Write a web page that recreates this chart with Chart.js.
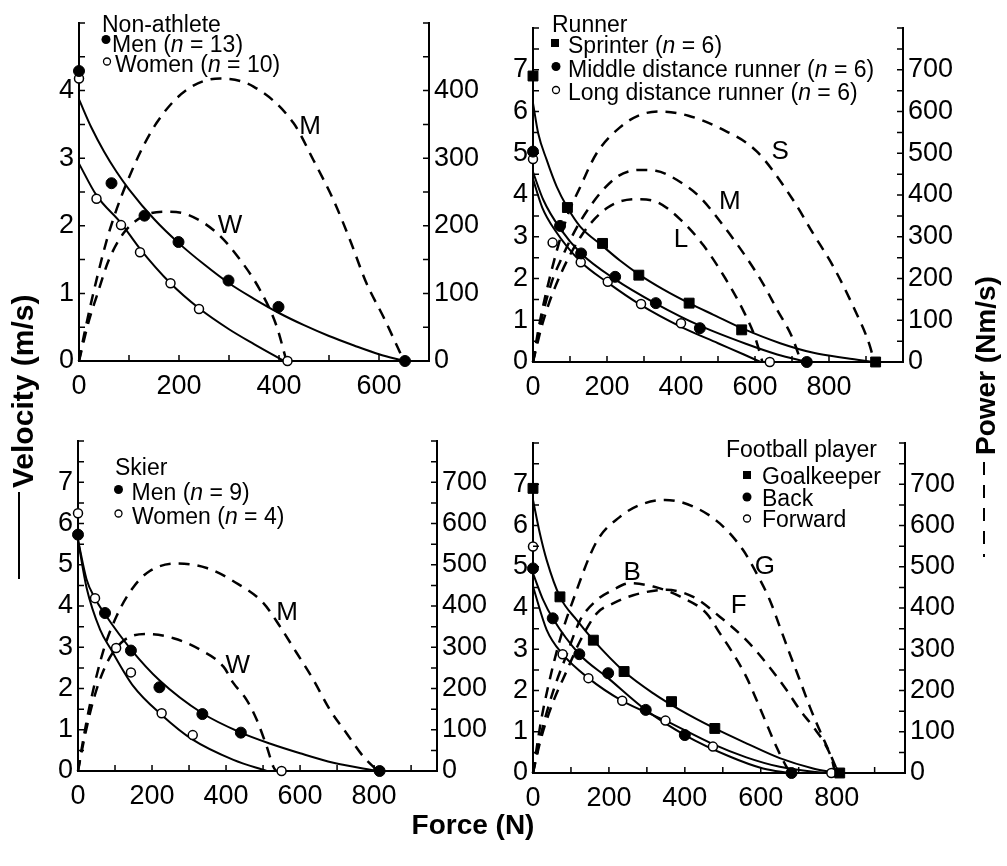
<!DOCTYPE html>
<html>
<head>
<meta charset="utf-8">
<script src="https://cdn.jsdelivr.net/npm/chart.js@4.4.1/dist/chart.umd.min.js"></script>
<style>
  html, body { margin: 0; padding: 0; background: #fff; }
  #wrap { position: relative; width: 1007px; height: 866px; overflow: hidden; background: #fff; }
  #wrap canvas { position: absolute; left: 0; top: 0; }
</style>
</head>
<body>
<div id="wrap">
  <canvas id="nonAthlete" width="1007" height="866"></canvas>
  <canvas id="runner" width="1007" height="866"></canvas>
  <canvas id="skier" width="1007" height="866"></canvas>
  <canvas id="football" width="1007" height="866"></canvas>
</div>
<script>
// ---------- Non-athlete ----------
const naMenF = [0, 65, 131, 199, 299, 399, 652];
const naMenV = [4.29, 2.63, 2.15, 1.76, 1.19, 0.80, 0];
const naWomenF = [0, 35, 84, 122, 183, 240, 417];
const naWomenV = [4.18, 2.40, 2.01, 1.61, 1.15, 0.77, 0];
const naMenFitF = [0, 25, 50, 75, 100, 150, 200, 250, 300, 350, 400, 450, 500, 550, 600, 650];
const naMenFitV = [3.87, 3.45, 3.10, 2.80, 2.54, 2.10, 1.74, 1.43, 1.15, 0.92, 0.71, 0.53, 0.37, 0.23, 0.10, 0];
const naWomenFitF = [0, 35, 84, 122, 183, 240, 300, 350, 410];
const naWomenFitV = [2.92, 2.45, 2.04, 1.66, 1.15, 0.78, 0.47, 0.25, 0];
const naMenPowF = [0, 10, 35, 62, 109, 155, 215, 282, 349, 429, 469, 509, 542, 575, 609, 650];
const naMenPowP = [0, 38, 120, 195, 287, 352, 401, 418, 406, 352, 297, 238, 179, 115, 65, 0];
const naWomenPowF = [0, 20, 35, 60, 90, 131, 175, 215, 275, 322, 362, 395, 415];
const naWomenPowP = [0, 60, 95, 150, 190, 215, 221, 217, 190, 150, 105, 52, 0];

// ---------- Runner ----------
const ruSprF = [0, 93, 188, 286, 422, 564, 926];
const ruSprV = [6.85, 3.70, 2.84, 2.08, 1.41, 0.77, 0];
const ruMidF = [0, 73, 130, 222, 332, 451, 740];
const ruMidV = [5.04, 3.26, 2.60, 2.04, 1.41, 0.81, 0];
const ruLongF = [0, 53, 129, 202, 292, 400, 640];
const ruLongV = [4.86, 2.86, 2.39, 1.92, 1.39, 0.93, 0];
const ruSprFitF = [0, 14, 37, 64, 93, 127, 188, 235, 286, 352, 422, 488, 564, 668, 758, 848, 920];
const ruSprFitV = [6.20, 5.48, 4.84, 4.20, 3.70, 3.25, 2.78, 2.43, 2.10, 1.74, 1.41, 1.13, 0.81, 0.45, 0.22, 0.09, 0];
const ruMidFitF = [0, 28, 73, 130, 222, 332, 451, 577, 660, 740];
const ruMidFitV = [4.55, 3.88, 3.20, 2.60, 1.98, 1.40, 0.87, 0.43, 0.18, 0];
const ruLongFitF = [0, 25, 60, 129, 202, 292, 400, 500, 570, 615];
const ruLongFitV = [4.38, 3.70, 3.15, 2.40, 1.90, 1.36, 0.84, 0.45, 0.18, 0];
const ruSprPowF = [0, 15, 37, 91, 127, 172, 235, 290, 343, 420, 505, 604, 703, 757, 812, 866, 911, 922];
const ruSprPowP = [0, 80, 172, 345, 418, 500, 562, 592, 600, 590, 560, 505, 388, 308, 228, 132, 37, 0];
const ruMidPowF = [0, 20, 50, 73, 130, 222, 289, 332, 400, 451, 520, 577, 620, 660, 700, 725];
const ruMidPowP = [0, 90, 190, 240, 340, 440, 460, 458, 430, 395, 320, 250, 190, 125, 60, 0];
const ruLongPowF = [0, 25, 60, 129, 202, 280, 330, 400, 460, 520, 570, 600, 620];
const ruLongPowP = [0, 90, 180, 300, 370, 390, 385, 340, 280, 200, 120, 60, 0];

// ---------- Skier ----------
const skMenF = [0, 73, 143, 220, 336, 440, 815];
const skMenV = [5.73, 3.83, 2.92, 2.03, 1.38, 0.93, 0];
const skWomenF = [0, 46, 103, 143, 226, 310, 550];
const skWomenV = [6.25, 4.19, 2.98, 2.39, 1.40, 0.87, 0];
const skMenFitF = [0, 23, 45, 73, 143, 220, 336, 440, 520, 600, 690, 810];
const skMenFitV = [5.60, 4.65, 4.20, 3.80, 2.95, 2.20, 1.40, 0.93, 0.66, 0.43, 0.20, 0];
const skWomenFitF = [0, 23, 60, 87, 150, 226, 310, 420, 510];
const skWomenFitV = [5.60, 4.45, 3.42, 2.98, 2.05, 1.36, 0.76, 0.27, 0];
const skMenPowF = [0, 15, 32, 68, 104, 149, 194, 267, 348, 420, 501, 546, 591, 636, 681, 726, 771, 810];
const skMenPowP = [0, 80, 160, 290, 375, 445, 485, 503, 492, 460, 407, 350, 286, 221, 148, 91, 35, 0];
const skWomenPowF = [0, 15, 41, 77, 122, 186, 258, 330, 393, 420, 456, 483, 510, 528, 535];
const skWomenPowP = [0, 70, 170, 260, 315, 332, 322, 294, 253, 213, 172, 124, 59, 10, 0];

// ---------- Football player ----------
const fbGkF = [0, 71, 159, 240, 365, 479, 808];
const fbGkV = [6.90, 4.27, 3.22, 2.46, 1.73, 1.08, 0];
const fbBackF = [0, 52, 122, 198, 297, 400, 681];
const fbBackV = [4.96, 3.75, 2.88, 2.42, 1.53, 0.92, 0];
const fbFwdF = [0, 78, 146, 235, 349, 474, 786];
const fbFwdV = [5.49, 2.88, 2.30, 1.75, 1.27, 0.64, 0];
const fbGkFitF = [0, 18, 36, 71, 115, 159, 240, 317, 387, 479, 562, 650, 738, 800];
const fbGkFitV = [6.62, 5.81, 5.16, 4.27, 3.71, 3.22, 2.46, 1.93, 1.53, 1.08, 0.72, 0.36, 0.11, 0];
const fbBackFitF = [0, 27, 52, 122, 198, 297, 400, 518, 606, 677];
const fbBackFitV = [4.84, 4.19, 3.75, 2.88, 2.30, 1.53, 0.92, 0.40, 0.11, 0];
const fbFwdFitF = [0, 36, 78, 146, 235, 349, 474, 562, 650, 738, 786];
const fbFwdFitV = [4.52, 3.47, 2.88, 2.30, 1.75, 1.27, 0.70, 0.38, 0.15, 0.03, 0];
const fbGkPowF = [0, 20, 40, 70, 106, 167, 229, 282, 348, 422, 492, 553, 589, 624, 650, 676, 703, 729, 755, 782, 804];
const fbGkPowP = [0, 120, 210, 320, 420, 560, 621, 650, 662, 646, 605, 541, 484, 419, 355, 290, 225, 161, 104, 48, 0];
const fbBackPowF = [0, 20, 52, 90, 124, 168, 211, 255, 317, 387, 457, 492, 527, 562, 589, 615, 641, 668, 680];
const fbBackPowP = [0, 90, 195, 290, 370, 419, 444, 460, 452, 428, 387, 339, 290, 233, 177, 120, 64, 15, 0];
const fbFwdPowF = [0, 20, 50, 90, 124, 168, 211, 264, 352, 422, 492, 562, 615, 668, 703, 738, 773, 790, 795];
const fbFwdPowP = [0, 80, 165, 250, 320, 387, 411, 431, 444, 427, 379, 322, 266, 201, 153, 112, 64, 24, 0];

// tick labels shown on the axes
const forceTicks = [0, 200, 400, 600, 800];
const velocityTicks = [0, 1, 2, 3, 4, 5, 6, 7];
const powerTicks = [0, 100, 200, 300, 400, 500, 600, 700];

// ---------- drawing helpers ----------
const FAMILY = '"Liberation Sans", Arial, Helvetica, sans-serif';
const W = 1007, H = 866;

const pts = (xs, ys) => xs.map((x, i) => ({ x, y: ys[i] }));

const dots = (xs, ys) => ({
  data: pts(xs, ys), yAxisID: 'y', showLine: false, clip: false,
  pointStyle: 'circle', pointRadius: 5.5, pointHoverRadius: 5.5,
  pointBackgroundColor: '#000', pointBorderColor: '#000', pointBorderWidth: 1
});
const rings = (xs, ys) => ({
  data: pts(xs, ys), yAxisID: 'y', showLine: false, clip: false,
  pointStyle: 'circle', pointRadius: 4.5, pointHoverRadius: 4.5,
  pointBackgroundColor: '#fff', pointBorderColor: '#000', pointBorderWidth: 1.5
});
const squares = (xs, ys) => ({
  data: pts(xs, ys), yAxisID: 'y', showLine: false, clip: false,
  pointStyle: 'rect', pointRadius: 7, pointHoverRadius: 7,
  pointBackgroundColor: '#000', pointBorderColor: '#000', pointBorderWidth: 1
});
const fit = (xs, ys) => ({
  data: pts(xs, ys), yAxisID: 'y', showLine: true, clip: false,
  pointRadius: 0, pointHoverRadius: 0, borderColor: '#000', borderWidth: 2,
  cubicInterpolationMode: 'monotone', fill: false
});
const power = (xs, ys) => ({
  data: pts(xs, ys), yAxisID: 'y1', showLine: true, clip: false,
  pointRadius: 0, pointHoverRadius: 0, borderColor: '#000', borderWidth: 2.5,
  borderDash: [11, 8], cubicInterpolationMode: 'monotone', fill: false
});

function drawRich(ctx, parts, x, y, size) {
  let cx = x;
  parts.forEach((txt, i) => {
    const italic = parts.length === 3 && i === 1;
    ctx.font = (italic ? 'italic ' : '') + size + 'px ' + FAMILY;
    ctx.fillText(txt, cx, y);
    cx += ctx.measureText(txt).width;
  });
}

function drawMarker(ctx, kind, x, y) {
  ctx.beginPath();
  if (kind === 'square') {
    ctx.fillStyle = '#000';
    ctx.fillRect(x - 4, y - 4, 8, 8);
    return;
  }
  if (kind === 'dot') {
    ctx.arc(x, y, 4.5, 0, Math.PI * 2);
    ctx.fillStyle = '#000';
    ctx.fill();
  } else {
    ctx.arc(x, y, 3.5, 0, Math.PI * 2);
    ctx.fillStyle = '#fff';
    ctx.fill();
    ctx.lineWidth = 1.3;
    ctx.strokeStyle = '#000';
    ctx.stroke();
  }
}

// inward tick marks, curve letters and the key of each panel
const panelDecor = {
  id: 'panelDecor',
  afterDraw(chart, args, o) {
    const { ctx, chartArea: a } = chart;
    const sx = chart.scales.x, sy = chart.scales.y, sp = chart.scales.y1;
    ctx.save();
    ctx.strokeStyle = '#000';
    ctx.lineWidth = 1.5;
    ctx.beginPath();
    for (let v = 0; v <= sx.max + 1e-6; v += o.xStep) {
      const px = sx.getPixelForValue(v);
      ctx.moveTo(px, a.bottom); ctx.lineTo(px, a.bottom - 6);
    }
    for (let v = 0; v <= sy.max + 1e-6; v += o.yStep) {
      const py = sy.getPixelForValue(v);
      ctx.moveTo(a.left, py); ctx.lineTo(a.left + 6, py);
    }
    for (let v = 0; v <= sp.max + 1e-6; v += o.pStep) {
      const py = sp.getPixelForValue(v);
      ctx.moveTo(a.right, py); ctx.lineTo(a.right - 6, py);
    }
    ctx.stroke();

    // curve letters (placed in force / power units)
    ctx.fillStyle = '#000';
    ctx.textAlign = 'center';
    ctx.textBaseline = 'middle';
    ctx.font = '26px ' + FAMILY;
    o.tags.forEach(t => {
      ctx.fillText(t.text, sx.getPixelForValue(t.f), sp.getPixelForValue(t.p));
    });

    // key
    ctx.textAlign = 'left';
    ctx.textBaseline = 'alphabetic';
    ctx.font = o.key.size + 'px ' + FAMILY;
    ctx.fillStyle = '#000';
    ctx.fillText(o.key.title, o.key.x, o.key.y);
    o.key.rows.forEach(r => {
      drawMarker(ctx, r.marker, r.mx, r.my);
      ctx.fillStyle = '#000';
      drawRich(ctx, r.parts, r.x, r.y, o.key.size);
    });
    ctx.restore();
  }
};

// shared axis titles
const sharedTitles = {
  id: 'sharedTitles',
  afterDraw(chart) {
    const ctx = chart.ctx;
    ctx.save();
    ctx.fillStyle = '#000';
    ctx.strokeStyle = '#000';
    ctx.textBaseline = 'alphabetic';

    ctx.font = 'bold 28px ' + FAMILY;
    ctx.textAlign = 'center';
    ctx.fillText('Force (N)', 473, 834);

    ctx.textAlign = 'left';
    ctx.font = 'bold 30px ' + FAMILY;
    ctx.save();
    ctx.translate(33, 488);
    ctx.rotate(-Math.PI / 2);
    ctx.fillText('Velocity (m/s)', 0, 0);
    ctx.restore();
    ctx.lineWidth = 2;
    ctx.beginPath();
    ctx.moveTo(19, 492); ctx.lineTo(19, 579);
    ctx.stroke();

    ctx.font = 'bold 28px ' + FAMILY;
    ctx.save();
    ctx.translate(995, 455);
    ctx.rotate(-Math.PI / 2);
    ctx.fillText('Power (Nm/s)', 0, 0);
    ctx.restore();
    ctx.setLineDash([13, 10]);
    ctx.beginPath();
    ctx.moveTo(984, 462); ctx.lineTo(984, 557);
    ctx.stroke();
    ctx.restore();
  }
};

const asTicks = (list, max) => list.filter(v => v < max).map(v => ({ value: v }));

function makePanel(id, p, extraPlugins) {
  const tickFont = { size: 27, family: FAMILY };
  const axisBase = {
    type: 'linear', min: 0,
    grid: { display: false, drawTicks: false },
    border: { display: true, color: '#000', width: 2 }
  };
  return new Chart(document.getElementById(id), {
    type: 'scatter',
    data: { datasets: p.datasets },
    options: {
      responsive: false,
      animation: false,
      devicePixelRatio: 1,
      events: [],
      layout: {
        padding: {
          left: p.area.left - 60,
          right: W - p.area.right - 70,
          top: p.area.top,
          bottom: H - p.area.bottom - 50
        }
      },
      plugins: {
        legend: { display: false },
        tooltip: { enabled: false },
        panelDecor: { xStep: 100, yStep: 0.5, pStep: 50, tags: p.tags, key: p.key }
      },
      scales: {
        x: Object.assign({}, axisBase, {
          position: 'bottom', max: p.xMax,
          ticks: { autoSkip: false, maxRotation: 0, padding: 9, color: '#000', font: tickFont },
          afterBuildTicks: s => { s.ticks = asTicks(forceTicks, p.xMax - 50); },
          afterFit: s => { s.height = 50; }
        }),
        y: Object.assign({}, axisBase, {
          position: 'left', max: p.vMax,
          ticks: { autoSkip: false, padding: 5, color: '#000', font: tickFont },
          afterBuildTicks: s => { s.ticks = asTicks(velocityTicks, p.vMax); },
          afterFit: s => { s.width = 60; }
        }),
        y1: Object.assign({}, axisBase, {
          position: 'right', max: p.pMax,
          ticks: { autoSkip: false, padding: 5, color: '#000', font: tickFont },
          afterBuildTicks: s => { s.ticks = asTicks(powerTicks, p.pMax); },
          afterFit: s => { s.width = 70; }
        })
      }
    },
    plugins: [panelDecor].concat(extraPlugins || [])
  });
}

makePanel('nonAthlete', {
  area: { left: 79, right: 429, top: 23, bottom: 361 },
  xMax: 700, vMax: 5, pMax: 500,
  datasets: [
    dots(naMenF, naMenV), rings(naWomenF, naWomenV),
    fit(naMenFitF, naMenFitV), fit(naWomenFitF, naWomenFitV),
    power(naMenPowF, naMenPowP), power(naWomenPowF, naWomenPowP)
  ],
  tags: [{ text: 'M', f: 462, p: 347 }, { text: 'W', f: 302, p: 200 }],
  key: {
    title: 'Non-athlete', x: 102, y: 31.5, size: 23,
    rows: [
      { marker: 'dot', mx: 106, my: 39.5, x: 112, y: 51.5, parts: ['Men (', 'n', ' = 13)'] },
      { marker: 'ring', mx: 107, my: 61.5, x: 115, y: 71.5, parts: ['Women (', 'n', ' = 10)'] }
    ]
  }
});

makePanel('runner', {
  area: { left: 533, right: 903, top: 28, bottom: 362 },
  xMax: 1000, vMax: 8, pMax: 800,
  datasets: [
    squares(ruSprF, ruSprV), dots(ruMidF, ruMidV), rings(ruLongF, ruLongV),
    fit(ruSprFitF, ruSprFitV), fit(ruMidFitF, ruMidFitV), fit(ruLongFitF, ruLongFitV),
    power(ruSprPowF, ruSprPowP), power(ruMidPowF, ruMidPowP), power(ruLongPowF, ruLongPowP)
  ],
  tags: [{ text: 'S', f: 668, p: 503 }, { text: 'M', f: 532, p: 383 }, { text: 'L', f: 400, p: 292 }],
  key: {
    title: 'Runner', x: 552, y: 31.5, size: 23,
    rows: [
      { marker: 'square', mx: 555, my: 43, x: 568, y: 53, parts: ['Sprinter (', 'n', ' = 6)'] },
      { marker: 'dot', mx: 556, my: 66.5, x: 568, y: 76.5, parts: ['Middle distance runner (', 'n', ' = 6)'] },
      { marker: 'ring', mx: 556, my: 90, x: 568, y: 99.5, parts: ['Long distance runner (', 'n', ' = 6)'] }
    ]
  }
});

makePanel('skier', {
  area: { left: 78, right: 437, top: 441, bottom: 771 },
  xMax: 970, vMax: 8, pMax: 800,
  datasets: [
    dots(skMenF, skMenV), rings(skWomenF, skWomenV),
    fit(skMenFitF, skMenFitV), fit(skWomenFitF, skWomenFitV),
    power(skMenPowF, skMenPowP), power(skWomenPowF, skWomenPowP)
  ],
  tags: [{ text: 'M', f: 565, p: 383 }, { text: 'W', f: 432, p: 255 }],
  key: {
    title: 'Skier', x: 115, y: 475, size: 23,
    rows: [
      { marker: 'dot', mx: 118.5, my: 489.5, x: 131.5, y: 499.5, parts: ['Men (', 'n', ' = 9)'] },
      { marker: 'ring', mx: 118.5, my: 513.5, x: 132, y: 523.5, parts: ['Women (', 'n', ' = 4)'] }
    ]
  }
});

makePanel('football', {
  area: { left: 533, right: 905, top: 443, bottom: 773 },
  xMax: 980, vMax: 8, pMax: 800,
  datasets: [
    squares(fbGkF, fbGkV), dots(fbBackF, fbBackV), rings(fbFwdF, fbFwdV),
    fit(fbGkFitF, fbGkFitV), fit(fbBackFitF, fbBackFitV), fit(fbFwdFitF, fbFwdFitV),
    power(fbGkPowF, fbGkPowP), power(fbBackPowF, fbBackPowP), power(fbFwdPowF, fbFwdPowP)
  ],
  tags: [{ text: 'B', f: 261, p: 485 }, { text: 'G', f: 611, p: 499 }, { text: 'F', f: 542, p: 405 }],
  key: {
    title: 'Football player', x: 726, y: 456.5, size: 23,
    rows: [
      { marker: 'square', mx: 747, my: 475, x: 762, y: 483.5, parts: ['Goalkeeper'] },
      { marker: 'dot', mx: 747, my: 497, x: 762, y: 505.5, parts: ['Back'] },
      { marker: 'ring', mx: 747, my: 518.5, x: 762, y: 527, parts: ['Forward'] }
    ]
  }
}, [sharedTitles]);
</script>
</body>
</html>
